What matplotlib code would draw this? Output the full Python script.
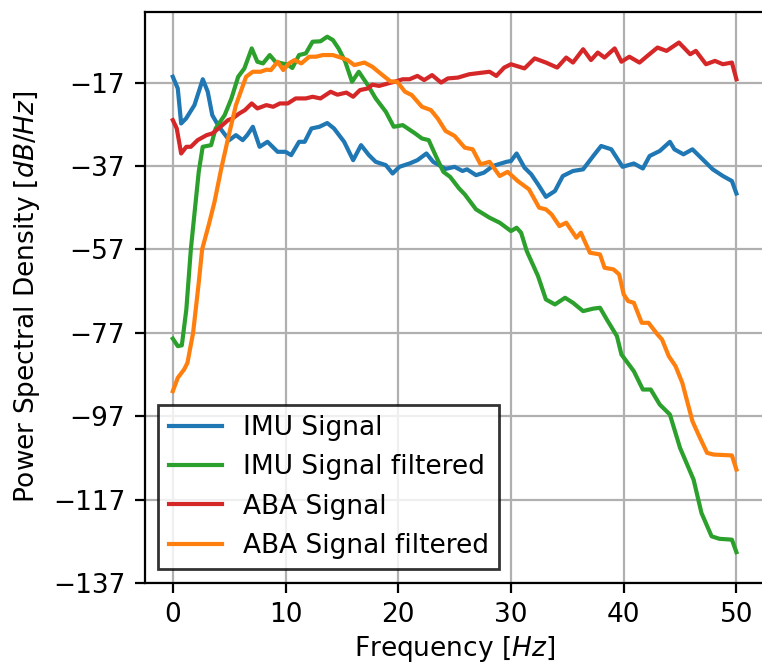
import numpy as np
import matplotlib
matplotlib.use('Agg')
import matplotlib.pyplot as plt

# values (Hz, dB/Hz)
imu_f = [0, 0.44, 0.74, 1.18, 1.92, 2.66, 3.1, 3.5, 4.1, 5.0, 5.6, 6.2, 6.6, 7.1, 7.7, 8.4, 9.3, 10.0,
         10.5, 11.2, 11.7, 12.3, 13.0, 13.7, 14.3, 15.2, 16.0, 16.7, 17.4, 18.0, 18.9, 19.5, 20.1, 21.0,
         21.7, 22.5, 23.1, 24.2, 25.0, 25.7, 26.1, 26.9, 27.6, 28.4, 29.6, 30.0, 30.5, 31.2, 31.8, 32.4,
         33.1, 33.9, 34.6, 35.5, 36.4, 37.3, 38.0, 38.9, 39.9, 40.9, 41.7, 42.3, 43.2, 44.1, 44.5, 45.3,
         46.1, 47.0, 47.9, 48.8, 49.6, 50.0]
imu_psd = [-15.6, -18.4, -26.8, -25.6, -22.4, -16.2, -19.2, -24.8, -27.6, -30.8, -29.6, -30.8, -29.6,
           -27.6, -32.4, -31.2, -33.6, -33.6, -34.4, -31.2, -31.2, -28.0, -27.6, -26.7, -28.0, -31.2,
           -35.6, -32.0, -34.4, -36.0, -36.8, -38.8, -37.2, -36.4, -35.6, -34.0, -36.0, -37.7, -37.2,
           -38.2, -37.8, -39.2, -38.6, -37.0, -36.0, -35.8, -34.0, -37.4, -39.0, -41.4, -44.4, -43.0,
           -39.4, -38.2, -37.8, -34.6, -32.2, -33.0, -37.2, -36.4, -37.6, -34.6, -33.4, -31.2, -33.0,
           -34.2, -33.0, -35.4, -37.8, -39.4, -40.6, -43.6]

imuf_f = [0, 0.44, 0.8, 1.2, 1.6, 1.9, 2.3, 2.65, 3.4, 3.8, 4.6, 5.2, 5.8, 6.35, 7.0, 7.5, 8.0, 8.6,
          9.1, 9.7, 10.2, 10.6, 11.2, 11.8, 12.4, 13.1, 13.7, 14.2, 14.7, 15.3, 15.9, 16.5, 17.3, 18.0,
          18.9, 19.6, 20.4, 21.5, 22.1, 22.7, 23.3, 24.0, 24.6, 25.4, 25.9, 26.9, 28.1, 29.0, 30.0,
          30.5, 30.9, 31.4, 32.4, 33.1, 33.9, 34.8, 35.5, 36.4, 37.3, 37.9, 38.5, 39.4, 39.8, 40.9,
          41.7, 42.4, 43.2, 44.1, 45.0, 46.2, 46.9, 47.8, 48.5, 49.6, 50.0]
imuf_psd = [-78.4, -80.2, -80.0, -71.4, -57.0, -49.0, -38.4, -32.4, -32.0, -28.0, -24.8, -20.8, -15.6,
            -13.6, -8.8, -12.0, -12.4, -10.4, -12.0, -12.4, -12.7, -13.5, -10.4, -10.0, -7.2, -7.1,
            -6.0, -6.8, -8.8, -12.0, -16.8, -14.4, -17.6, -20.8, -24.0, -27.6, -27.2, -29.2, -30.4,
            -30.8, -34.4, -38.4, -39.6, -42.4, -43.8, -47.4, -49.4, -50.6, -52.6, -51.8, -53.0, -57.4,
            -63.4, -69.0, -70.2, -68.6, -69.8, -71.8, -71.2, -71.0, -73.8, -77.8, -82.2, -86.2, -90.6,
            -90.6, -94.2, -96.6, -104.6, -112.2, -120.2, -125.8, -126.4, -126.6, -129.6]

aba_f = [0, 0.35, 0.74, 1.2, 1.6, 2.2, 3.0, 3.5, 4.1, 4.9, 5.3, 5.9, 6.4, 7.0, 7.5, 8.3, 8.9, 9.5,
         10.2, 10.9, 11.8, 12.4, 13.1, 14.0, 14.6, 15.4, 16.0, 16.6, 17.3, 17.7, 18.3, 19.1, 19.8,
         20.4, 21.0, 21.7, 22.3, 23.0, 23.8, 24.4, 25.3, 26.3, 27.5, 28.1, 28.7, 29.4, 30.0, 31.2,
         32.1, 33.1, 34.1, 34.9, 35.5, 36.4, 37.1, 37.7, 38.3, 39.2, 39.8, 40.5, 41.4, 42.1, 43.0,
         43.8, 44.9, 45.9, 46.4, 47.3, 48.1, 48.8, 49.6, 50.0]
aba_psd = [-26.0, -28.0, -34.0, -32.4, -32.4, -30.8, -29.6, -29.2, -27.9, -26.0, -25.6, -24.4, -23.6,
           -22.0, -23.2, -22.4, -22.8, -22.0, -22.0, -20.8, -20.8, -20.4, -20.8, -19.2, -19.9, -19.4,
           -20.4, -18.8, -18.4, -17.5, -17.8, -17.2, -16.7, -16.2, -16.2, -15.4, -16.4, -15.2, -17.0,
           -16.0, -15.8, -15.0, -14.6, -14.4, -15.4, -13.4, -12.6, -13.6, -11.2, -12.2, -13.4, -11.0,
           -12.2, -9.0, -11.6, -9.8, -11.0, -8.8, -12.0, -10.8, -12.2, -10.6, -8.6, -9.4, -7.4, -10.2,
           -9.4, -12.6, -11.8, -12.6, -12.2, -16.2]

abaf_f = [0, 0.44, 1.0, 1.3, 1.8, 2.3, 2.6, 3.2, 3.7, 4.3, 4.9, 5.6, 6.5, 7.1, 7.8, 8.3, 8.7, 9.3, 9.8,
          10.3, 10.8, 11.4, 12.1, 12.7, 13.3, 14.2, 14.9, 15.5, 16.1, 17.0, 17.7, 18.6, 19.3, 19.9,
          20.6, 21.2, 22.1, 22.9, 23.5, 24.2, 25.0, 25.9, 26.6, 27.3, 28.1, 29.0, 29.7, 30.6, 31.6,
          32.5, 33.1, 33.6, 34.3, 34.9, 35.8, 36.2, 37.0, 37.9, 38.3, 39.1, 39.6, 40.0, 40.4, 40.9,
          41.6, 42.2, 43.0, 43.4, 44.0, 44.6, 45.2, 46.1, 46.7, 47.4, 48.0, 49.6, 50.0]
abaf_psd = [-91.0, -87.8, -85.8, -84.2, -77.0, -65.0, -57.0, -51.0, -45.6, -37.6, -30.4, -22.4, -15.6,
            -14.4, -14.4, -13.9, -14.0, -12.0, -14.0, -12.4, -11.6, -12.4, -10.8, -10.8, -10.4, -10.4,
            -11.0, -11.6, -12.8, -12.2, -13.2, -15.2, -16.7, -16.8, -19.2, -20.0, -22.8, -23.6, -25.6,
            -28.6, -29.8, -32.6, -33.0, -36.6, -36.0, -39.4, -38.4, -40.6, -42.6, -47.0, -47.4, -48.6,
            -51.4, -50.6, -54.2, -53.0, -57.8, -58.2, -61.4, -61.8, -63.0, -67.8, -69.4, -69.8, -74.6,
            -74.6, -77.4, -78.6, -82.6, -85.0, -89.0, -98.2, -101.8, -105.8, -106.2, -106.4, -109.8]

ytick_vals = np.arange(-137, 0, 20)

font = {'size': 9.5}
matplotlib.rc('font', **font)

fig = plt.figure(figsize=(3.81, 3.34), dpi=200)
ax1 = fig.add_axes([0.1898, 0.1272, 0.8136, 0.8553])

ax1.plot(imu_f, imu_psd, color='tab:blue', label='IMU Signal')
ax1.plot(imuf_f, imuf_psd, color='tab:green', label='IMU Signal filtered')
ax1.plot(aba_f, aba_psd, color='tab:red', label='ABA Signal')
ax1.plot(abaf_f, abaf_psd, color='tab:orange', label='ABA Signal filtered')

ax1.set_xlim(-2.5, 52.5)
ax1.set_ylim(-137, 0)
ax1.set_yticks(ytick_vals)
ax1.grid(True)
ax1.set_xlabel('Frequency [$Hz$]', labelpad=2)
ax1.set_ylabel('Power Spectral Density [$dB/Hz$]')
ax1.legend(loc='lower left', fancybox=False, edgecolor='black', borderaxespad=0.52)

fig.savefig('out.png', dpi=200)
